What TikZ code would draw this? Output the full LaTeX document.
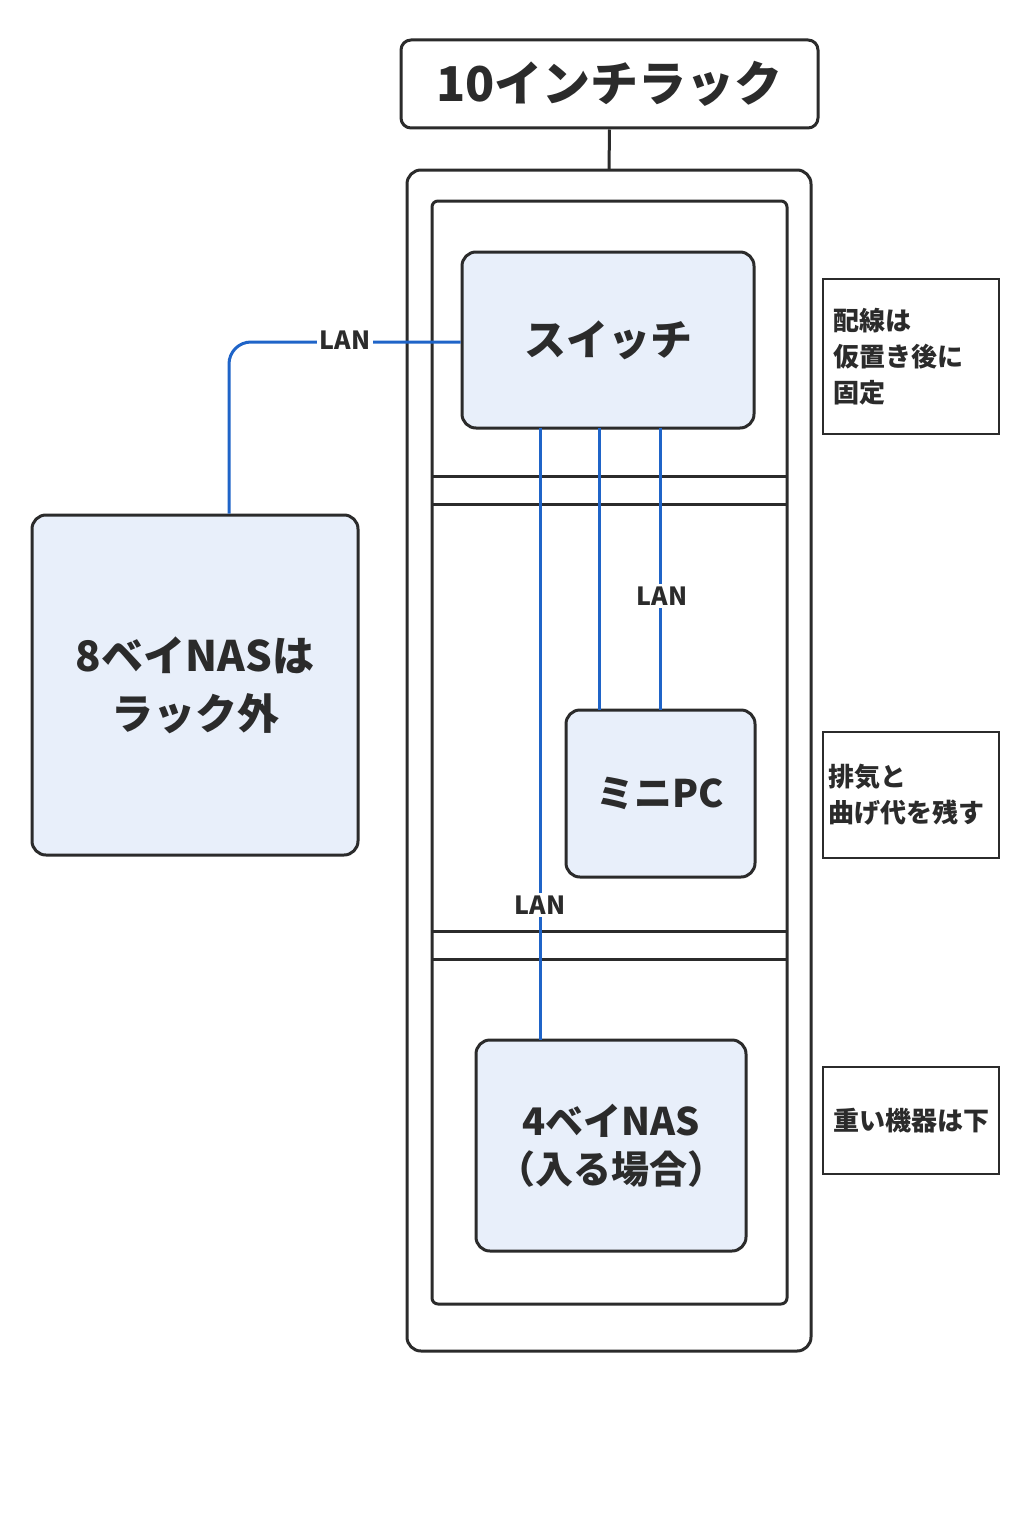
\documentclass[tikz,border=0pt]{standalone}
\usepackage{fontspec}
\setmainfont{Noto Sans CJK JP}
\definecolor{devfill}{HTML}{E8EFFA}
\definecolor{lanblue}{HTML}{1F64C8}
\definecolor{ink}{HTML}{2B2B2B}
\begin{document}
\begin{tikzpicture}[x=1pt,y=-1pt,
 frame/.style={draw=ink,line width=3pt,rounded corners=10pt},
 dev/.style={draw=ink,line width=3pt,rounded corners=14pt,fill=devfill,align=center,text=ink,font=\bfseries\fontsize{38}{48}\selectfont},
 note/.style={draw=ink,line width=2.2pt,align=left,text=ink,font=\bfseries\fontsize{26}{36}\selectfont},
 lan/.style={draw=lanblue,line width=3pt},
 lbl/.style={fill=white,text=ink,font=\bfseries\fontsize{25}{28}\selectfont,inner sep=3pt}]
\useasboundingbox (0,0) rectangle (1024,1536);
\fill[white] (0,0) rectangle (1024,1536);
\node[frame,minimum width=417pt,minimum height=88pt,font=\bfseries\fontsize{48}{52}\selectfont,text=ink] (title) at (609.5,84) {10インチラック};
\draw[frame,rounded corners=14pt] (407,170) rectangle (811,1351);
\coordinate (rt) at (609,170);
\draw[ink,line width=3pt] (title.south) -- (rt);
\draw[frame,rounded corners=6pt] (432,201) rectangle (787,1304);
\foreach \y in {476,504,931,959} \draw[ink,line width=3pt] (432,\y) -- (787,\y);
\node[dev,minimum width=292pt,minimum height=176pt,font=\bfseries\fontsize{42}{48}\selectfont] (sw) at (608,340) {スイッチ};
\node[dev,minimum width=189pt,minimum height=167pt] (pc) at (660.5,793.5) {ミニPC};
\node[dev,minimum width=270pt,minimum height=211pt] (nas4) at (611,1145.5) {4ベイNAS\\（入る場合）};
\node[dev,minimum width=326pt,minimum height=340pt,font=\bfseries\fontsize{42}{58}\selectfont] (nas8) at (195,685) {8ベイNASは\\ラック外};
\node[note,minimum width=176pt,minimum height=155pt,anchor=north west,text width=155pt,inner sep=8pt] (n1) at (822,278) {配線は\\仮置き後に\\固定};
\node[note,minimum width=176pt,minimum height=126pt,anchor=north west,text width=165pt,inner sep=5pt] (n2) at (822,731) {排気と\\曲げ代を残す};
\node[note,minimum width=176pt,minimum height=107pt,anchor=north west,inner sep=5pt] (n3) at (822,1066) {重い機器は下};
\draw[lan,rounded corners=22pt] (sw.west |- 0,342) -- (229,342) -- (nas8.north -| 229,0);
\node[lbl] at (345,340) {LAN};
\draw[lan] (540,428) -- (540,1040);
\node[lbl] at (540,905) {LAN};
\draw[lan] (599,428) -- (599,710);
\draw[lan] (660,428) -- (660,710);
\node[lbl] at (662,596) {LAN};
\end{tikzpicture}
\end{document}
